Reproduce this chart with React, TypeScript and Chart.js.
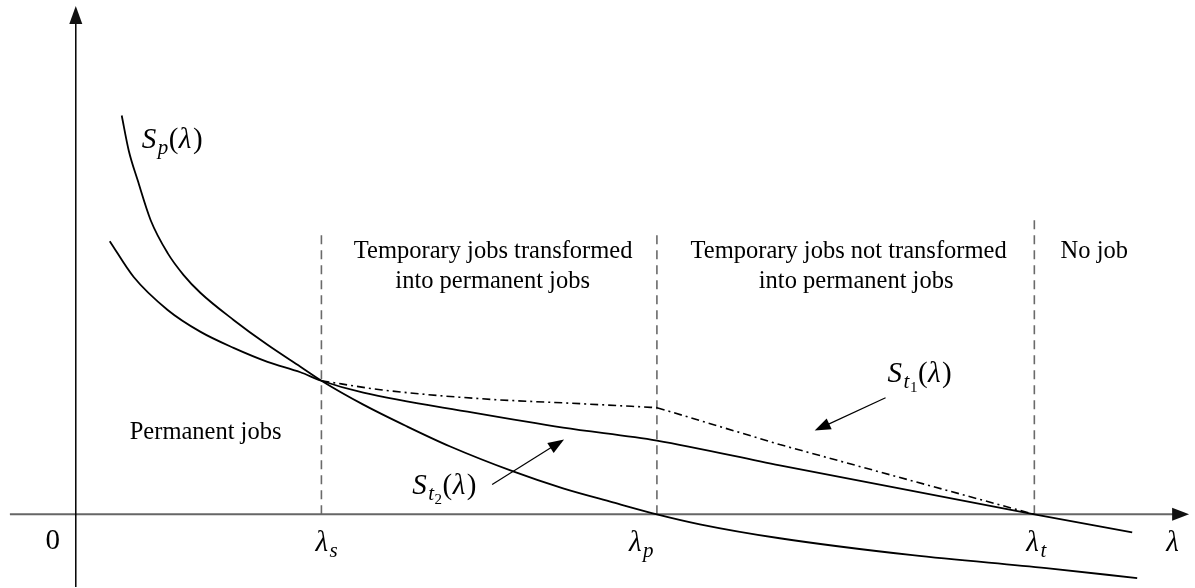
import React, { useEffect, useRef } from "react";
import { Chart, registerables } from "chart.js";

Chart.register(...registerables);

// ---- data (λ on x, S on y; arbitrary units, origin at the axes crossing) ----
const spLambda = [0.46, 0.53, 0.62, 0.75, 0.92, 1.08, 1.25, 1.58, 1.92, 2.25, 2.46, 2.88, 3.32, 3.75, 4.38, 4.88, 5.38, 5.82, 6.25, 7.05, 8.38, 9.72, 10.63];
const spValue = [4.0, 3.65, 3.35, 2.95, 2.62, 2.4, 2.22, 1.95, 1.7, 1.48, 1.34, 1.1, 0.88, 0.68, 0.43, 0.26, 0.12, 0.0, -0.1, -0.24, -0.41, -0.54, -0.64];

const stLambda = [0.34, 0.58, 0.92, 1.25, 1.58, 1.92, 2.25, 2.46, 2.88, 3.98, 4.88, 5.82, 7.05, 9.6, 10.58];
const stValue = [2.74, 2.38, 2.05, 1.83, 1.67, 1.53, 1.425, 1.34, 1.22, 1.02, 0.87, 0.74, 0.49, 0.0, -0.18];

// dash-dot boundary S_t1, in two pieces (kink at λp)
const st1aLambda = [2.46, 3.05, 4.05, 5.05, 5.82];
const st1aValue = [1.34, 1.25, 1.16, 1.11, 1.07];
const st1bLambda = [5.82, 7.05, 9.6];
const st1bValue = [1.07, 0.7, 0.0];

const thresholdLambda = [2.46, 5.82, 9.6];
const thresholdTop = [2.83, 2.83, 2.97];
const thresholdSub = ["s", "p", "t"];
const thresholdLabelX = [2.4, 5.54, 9.52];

const regionText = [
  "Permanent jobs",
  "Temporary jobs transformed",
  "into permanent jobs",
  "Temporary jobs not transformed",
  "into permanent jobs",
  "No job",
];
const regionX = [1.3, 4.18, 4.175, 7.74, 7.815, 10.2];
const regionY = [0.76, 2.57, 2.27, 2.57, 2.27, 2.57];

const X_MIN = -0.75;
const X_MAX = 11.2;
const Y_MIN = -0.73;
const Y_MAX = 5.15;

const toPts = (xs: number[], ys: number[]) => xs.map((x, i) => ({ x, y: ys[i] }));

const SERIF = "'Liberation Serif'";
const MAIN = 29;
const SUB = 21;
const SUBSUB = 15;

type Part = { t: string; it?: boolean; lvl?: 0 | 1 | 2 };

function drawMath(ctx: CanvasRenderingContext2D, x: number, y: number, parts: Part[]) {
  let cx = x;
  for (const p of parts) {
    const lvl = p.lvl || 0;
    const size = lvl === 0 ? MAIN : lvl === 1 ? SUB : SUBSUB;
    const dy = lvl === 0 ? 0 : lvl === 1 ? 6 : 10;
    ctx.font = `${p.it ? "italic " : ""}${size}px ${SERIF}`;
    ctx.fillText(p.t, cx, y + dy);
    cx += ctx.measureText(p.t).width + (p.it && lvl === 0 ? 1.5 : 0.5);
  }
}

function arrowHead(ctx: CanvasRenderingContext2D, x1: number, y1: number, x2: number, y2: number, len: number, half: number) {
  const a = Math.atan2(y2 - y1, x2 - x1);
  const bx = x2 - len * Math.cos(a);
  const by = y2 - len * Math.sin(a);
  ctx.beginPath();
  ctx.moveTo(x2, y2);
  ctx.lineTo(bx + half * Math.sin(a), by - half * Math.cos(a));
  ctx.lineTo(bx - half * Math.sin(a), by + half * Math.cos(a));
  ctx.closePath();
  ctx.fill();
}

const annotations = {
  id: "annotations",
  beforeDatasetsDraw(chart: any) {
    const { ctx } = chart;
    const sx = chart.scales.x;
    const sy = chart.scales.y;
    const X = (v: number) => sx.getPixelForValue(v);
    const Y = (v: number) => sy.getPixelForValue(v);
    ctx.save();
    // threshold dashed lines
    ctx.strokeStyle = "#6a6a6a";
    ctx.lineWidth = 1.6;
    ctx.setLineDash([9, 6]);
    thresholdLambda.forEach((l, i) => {
      ctx.beginPath();
      ctx.moveTo(X(l), Y(0));
      ctx.lineTo(X(l), Y(thresholdTop[i]));
      ctx.stroke();
    });
    ctx.setLineDash([]);
    // x axis
    ctx.strokeStyle = "#666";
    ctx.fillStyle = "#111";
    ctx.lineWidth = 2;
    ctx.beginPath();
    ctx.moveTo(X(-0.66), Y(0));
    ctx.lineTo(X(11.15) - 10, Y(0));
    ctx.stroke();
    arrowHead(ctx, X(0), Y(0), X(11.15), Y(0), 17, 6.5);
    // y axis
    ctx.strokeStyle = "#000";
    ctx.lineWidth = 1.5;
    ctx.beginPath();
    ctx.moveTo(X(0), Y(Y_MIN));
    ctx.lineTo(X(0), Y(5.1) + 10);
    ctx.stroke();
    arrowHead(ctx, X(0), Y(0), X(0), Y(5.1), 18, 6.5);
    ctx.restore();
  },
  afterDatasetsDraw(chart: any) {
    const { ctx } = chart;
    const sx = chart.scales.x;
    const sy = chart.scales.y;
    const X = (v: number) => sx.getPixelForValue(v);
    const Y = (v: number) => sy.getPixelForValue(v);
    ctx.save();
    ctx.fillStyle = "#000";
    ctx.strokeStyle = "#000";
    ctx.textBaseline = "alphabetic";

    // region texts
    ctx.textAlign = "center";
    ctx.font = `24.5px ${SERIF}`;
    regionText.forEach((t, i) => {
      ctx.fillText(t, X(regionX[i]), Y(regionY[i]));
    });

    // origin
    ctx.font = `${MAIN}px ${SERIF}`;
    ctx.fillText("0", X(-0.23), Y(-0.35));

    ctx.textAlign = "left";
    // threshold labels
    thresholdLambda.forEach((_, i) => {
      drawMath(ctx, X(thresholdLabelX[i]), Y(-0.37), [
        { t: "λ", it: true },
        { t: thresholdSub[i], it: true, lvl: 1 },
      ]);
    });
    // axis label
    drawMath(ctx, X(10.92), Y(-0.37), [{ t: "λ", it: true }]);

    // curve labels
    drawMath(ctx, X(0.66), Y(3.67), [
      { t: "S", it: true },
      { t: "p", it: true, lvl: 1 },
      { t: "(" },
      { t: "λ", it: true },
      { t: ")" },
    ]);
    drawMath(ctx, X(3.37), Y(0.2), [
      { t: "S", it: true },
      { t: "t", it: true, lvl: 1 },
      { t: "2", lvl: 2 },
      { t: "(" },
      { t: "λ", it: true },
      { t: ")" },
    ]);
    drawMath(ctx, X(8.13), Y(1.33), [
      { t: "S", it: true },
      { t: "t", it: true, lvl: 1 },
      { t: "1", lvl: 2 },
      { t: "(" },
      { t: "λ", it: true },
      { t: ")" },
    ]);

    // pointer arrows
    const arrows = [
      [4.17, 0.3, 4.89, 0.75],
      [8.11, 1.17, 7.4, 0.84],
    ];
    ctx.lineWidth = 1.2;
    arrows.forEach(([a, b, c, d]) => {
      const x1 = X(a), y1 = Y(b), x2 = X(c), y2 = Y(d);
      const ang = Math.atan2(y2 - y1, x2 - x1);
      ctx.beginPath();
      ctx.moveTo(x1, y1);
      ctx.lineTo(x2 - 10 * Math.cos(ang), y2 - 10 * Math.sin(ang));
      ctx.stroke();
      arrowHead(ctx, x1, y1, x2, y2, 16, 6);
    });
    ctx.restore();
  },
};

const curve = (data: { x: number; y: number }[], extra: any) => ({
  data,
  showLine: true,
  borderColor: "#000",
  borderWidth: 1.8,
  pointRadius: 0,
  ...extra,
});

export default function App() {
  const ref = useRef<HTMLCanvasElement | null>(null);
  useEffect(() => {
    document.body.style.margin = "0";
    const canvas = ref.current;
    if (!canvas) return;
    const chart = new Chart(canvas, {
      type: "scatter",
      data: {
        datasets: [
          curve(toPts(spLambda, spValue), { label: "Sp", cubicInterpolationMode: "monotone" }),
          curve(toPts(stLambda, stValue), { label: "St", cubicInterpolationMode: "monotone" }),
          curve(toPts(st1aLambda, st1aValue), {
            label: "St1a",
            borderWidth: 1.6,
            borderDash: [8, 4, 2, 4],
            cubicInterpolationMode: "monotone",
          }),
          curve(toPts(st1bLambda, st1bValue), {
            label: "St1b",
            borderWidth: 1.6,
            borderDash: [8, 4, 2, 4],
            tension: 0,
          }),
        ],
      },
      options: {
        animation: false,
        responsive: false,
        maintainAspectRatio: false,
        devicePixelRatio: 1,
        layout: { padding: 0 },
        events: [],
        scales: {
          x: { type: "linear", display: false, min: X_MIN, max: X_MAX },
          y: { type: "linear", display: false, min: Y_MIN, max: Y_MAX },
        },
        plugins: { legend: { display: false }, tooltip: { enabled: false } },
      },
      plugins: [annotations],
    } as any);
    let alive = true;
    const fonts: any = (document as any).fonts;
    if (fonts && fonts.load) {
      Promise.all([
        fonts.load(`24.5px ${SERIF}`, "Temporary λ"),
        fonts.load(`italic 29px ${SERIF}`, "Sλ"),
        fonts.load(`italic 21px ${SERIF}`, "tps"),
        fonts.load(`15px ${SERIF}`, "12"),
      ])
        .catch(() => null)
        .then(() => {
          if (alive) chart.update();
        });
    }
    return () => {
      alive = false;
      chart.destroy();
    };
  }, []);
  return (
    <div style={{ width: 1195, height: 588, background: "#fff" }}>
      <canvas ref={ref} width={1195} height={588} style={{ display: "block" }} />
    </div>
  );
}
